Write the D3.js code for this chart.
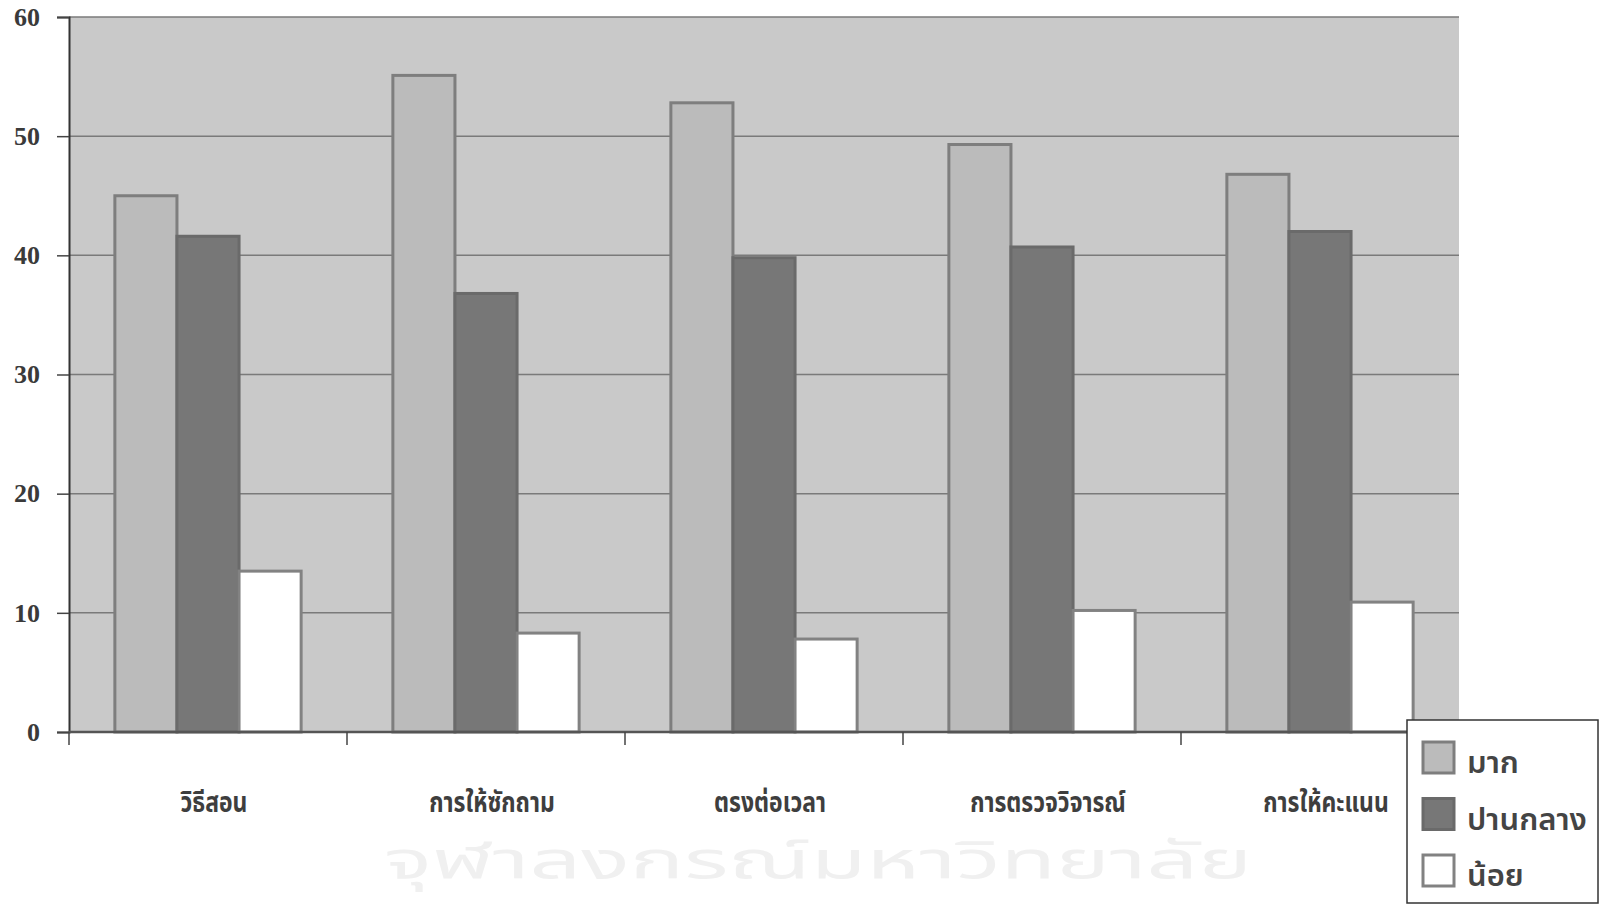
<!DOCTYPE html>
<html>
<head>
<meta charset="utf-8">
<script src="https://cdn.jsdelivr.net/npm/d3@7"></script>
<style>
  html, body { margin: 0; padding: 0; background: #ffffff; }
  svg { display: block; }
</style>
</head>
<body>
<svg id="chart" width="1599" height="907"></svg>
<script>
// ---- data ----
const categories = ["วิธีสอน", "การให้ซักถาม", "ตรงต่อเวลา", "การตรวจวิจารณ์", "การให้คะแนน"];
const seriesNames = ["มาก", "ปานกลาง", "น้อย"];
const valuesMak = [45.0, 55.1, 52.8, 49.3, 46.8];
const valuesPanklang = [41.6, 36.8, 39.8, 40.7, 42.0];
const valuesNoi = [13.5, 8.3, 7.8, 10.2, 10.9];
const yTicks = [0, 10, 20, 30, 40, 50, 60];
const watermarkText = "จุฬาลงกรณ์มหาวิทยาลัย";

const seriesValues = [valuesMak, valuesPanklang, valuesNoi];
const fills = ["#bbbbbb", "#777777", "#ffffff"];
const strokes = ["#7e7e7e", "#6a6a6a", "#828282"];

const svg = d3.select("#chart");
const plot = { left: 69, right: 1459, top: 17, bottom: 732 };

const x0 = d3.scaleBand().domain(categories).range([plot.left, plot.right])
  .paddingInner(0.33).paddingOuter(0.165);
const x1 = d3.scaleBand().domain(seriesNames).range([0, x0.bandwidth()]).padding(0);
const y = d3.scaleLinear().domain([0, 60]).range([plot.bottom, plot.top]);

const thaiFont = "'Noto Sans Thai', 'Loma', 'Garuda', 'Tlwg Typo', 'Norasi', 'DejaVu Sans', sans-serif";

// faint watermark (bottom, behind)
svg.append("text")
  .attr("x", 384).attr("y", 878)
  .attr("font-family", thaiFont).attr("font-size", 52)
  .attr("textLength", 868).attr("lengthAdjust", "spacingAndGlyphs")
  .attr("fill", "#f0f0f0")
  .text(watermarkText);

// plot background
svg.append("rect")
  .attr("x", plot.left).attr("y", plot.top)
  .attr("width", plot.right - plot.left).attr("height", plot.bottom - plot.top)
  .attr("fill", "#c9c9c9");

// gridlines
svg.append("g")
  .selectAll("line").data(yTicks.filter(d => d > 0)).join("line")
  .attr("x1", plot.left).attr("x2", plot.right)
  .attr("y1", d => y(d)).attr("y2", d => y(d))
  .attr("stroke", "#7a7a7a").attr("stroke-width", 1.5);

// bars
const groups = svg.append("g").selectAll("g").data(categories).join("g")
  .attr("transform", d => `translate(${x0(d)},0)`);
groups.selectAll("rect")
  .data((c, i) => seriesNames.map((s, j) => ({ s, j, v: seriesValues[j][i] })))
  .join("rect")
  .attr("x", d => x1(d.s))
  .attr("y", d => y(d.v))
  .attr("width", x1.bandwidth())
  .attr("height", d => y(0) - y(d.v))
  .attr("fill", d => fills[d.j])
  .attr("stroke", d => strokes[d.j])
  .attr("stroke-width", 3);

// y axis
const yAxis = d3.axisLeft(y).tickValues(yTicks).tickSize(12).tickPadding(17).tickFormat(d3.format("d"));
const gy = svg.append("g").attr("transform", `translate(${plot.left},0)`).call(yAxis);
gy.select(".domain").attr("stroke", "#333").attr("stroke-width", 2);
gy.selectAll(".tick line").attr("stroke", "#444").attr("stroke-width", 1.5);
gy.selectAll(".tick text")
  .attr("font-family", "'Liberation Serif', 'Times New Roman', serif")
  .attr("font-weight", "bold").attr("font-size", 26).attr("fill", "#3a3a3a");

// x axis
const boundaries = d3.range(0, categories.length + 1).map(i => plot.left + i * x0.step());
const gx = svg.append("g");
gx.append("line")
  .attr("x1", plot.left).attr("x2", plot.right)
  .attr("y1", plot.bottom).attr("y2", plot.bottom)
  .attr("stroke", "#555").attr("stroke-width", 2.5);
gx.selectAll("line.tk").data(boundaries.slice(0, -1)).join("line").attr("class", "tk")
  .attr("x1", d => d).attr("x2", d => d)
  .attr("y1", plot.bottom).attr("y2", plot.bottom + 13)
  .attr("stroke", "#444").attr("stroke-width", 1.5);
gx.selectAll("text").data(categories).join("text")
  .attr("transform", d => `translate(${x0(d) + x0.bandwidth() / 2 + 6},812) scale(0.82,1)`)
  .attr("text-anchor", "middle")
  .attr("font-family", thaiFont).attr("font-weight", "bold")
  .attr("font-size", 28).attr("fill", "#3e3e3e")
  .text(d => d);

// legend
const lg = svg.append("g");
lg.append("rect")
  .attr("x", 1407).attr("y", 720).attr("width", 191).attr("height", 183)
  .attr("fill", "#ffffff").attr("stroke", "#333").attr("stroke-width", 1.5);
const items = lg.selectAll("g.item").data(seriesNames).join("g").attr("class", "item")
  .attr("transform", (d, i) => `translate(1423, ${742 + i * 56.5})`);
items.append("rect")
  .attr("width", 31).attr("height", 31)
  .attr("fill", (d, i) => fills[i]).attr("stroke", (d, i) => strokes[i]).attr("stroke-width", 3);
items.append("text")
  .attr("x", 44).attr("y", 31)
  .attr("font-family", thaiFont).attr("font-weight", 600).attr("font-size", 31).attr("fill", "#444")
  .text(d => d);
</script>
</body>
</html>
